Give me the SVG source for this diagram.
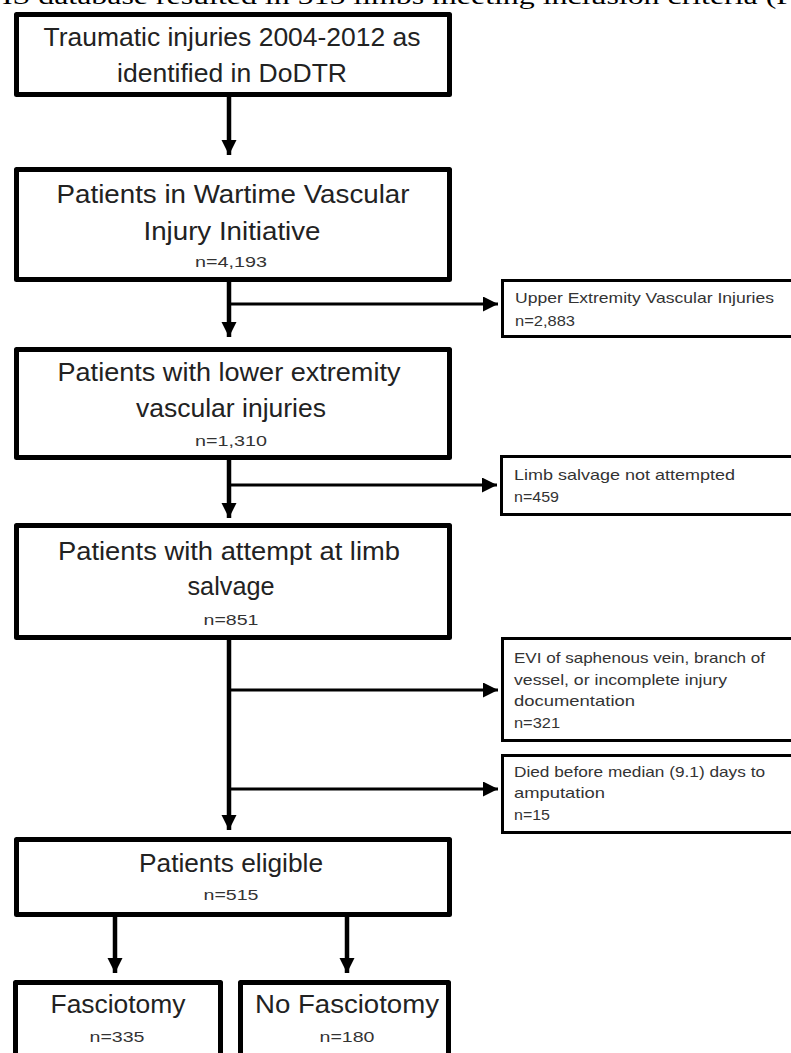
<svg xmlns="http://www.w3.org/2000/svg" width="791" height="1053" viewBox="0 0 791 1053">
<style>
.main{fill:#fff;stroke:#000;stroke-width:5;stroke-linejoin:round}
.side{fill:#fff;stroke:#000;stroke-width:3}
.t{font-family:"Liberation Sans",Arial,sans-serif;font-size:26px;fill:#222;text-anchor:middle}
.n{font-family:"Liberation Sans",Arial,sans-serif;font-size:15px;fill:#333;text-anchor:middle}
.s{font-family:"Liberation Sans",Arial,sans-serif;font-size:15px;fill:#333}
.v{stroke:#000;stroke-width:4.5;fill:none}
.h{stroke:#000;stroke-width:3;fill:none}
.cap{font-family:"Liberation Serif","Times New Roman",serif;font-size:24px;fill:#000}
</style>
<defs>
<marker id="ah" markerUnits="userSpaceOnUse" markerWidth="16" markerHeight="16" refX="15" refY="7.5" orient="auto">
<path d="M0,0 L15,7.5 L0,15 z" fill="#000"/>
</marker>
</defs>
<text class="cap" x="2" y="4" textLength="792" lengthAdjust="spacingAndGlyphs">IS database resulted in 515 limbs meeting inclusion criteria (F</text>
<g id="connectors">
<line class="v" x1="229" y1="97" x2="229" y2="155" marker-end="url(#ah)"/>
<line class="v" x1="229" y1="282" x2="229" y2="337" marker-end="url(#ah)"/>
<line class="h" x1="229" y1="304" x2="498" y2="304" marker-end="url(#ah)"/>
<line class="v" x1="229" y1="460" x2="229" y2="518" marker-end="url(#ah)"/>
<line class="h" x1="229" y1="485" x2="497" y2="485" marker-end="url(#ah)"/>
<line class="v" x1="229" y1="640" x2="229" y2="830" marker-end="url(#ah)"/>
<line class="h" x1="229" y1="690" x2="498" y2="690" marker-end="url(#ah)"/>
<line class="h" x1="229" y1="789" x2="498" y2="789" marker-end="url(#ah)"/>
<line class="v" x1="115" y1="917" x2="115" y2="973" marker-end="url(#ah)"/>
<line class="v" x1="347" y1="917" x2="347" y2="973" marker-end="url(#ah)"/>
</g>
<g id="n1">
<rect class="main" x="16.5" y="14.5" width="433" height="80"/>
<text class="t" x="232" y="46" textLength="377" lengthAdjust="spacingAndGlyphs">Traumatic injuries 2004-2012 as</text>
<text class="t" x="232" y="82" textLength="230" lengthAdjust="spacingAndGlyphs">identified in DoDTR</text>
</g>
<g id="n2">
<rect class="main" x="16.5" y="169.5" width="433" height="110"/>
<text class="t" x="233" y="203" textLength="353" lengthAdjust="spacingAndGlyphs">Patients in Wartime Vascular</text>
<text class="t" x="232" y="240" textLength="177" lengthAdjust="spacingAndGlyphs">Injury Initiative</text>
<text class="n" x="231" y="267" textLength="72" lengthAdjust="spacingAndGlyphs">n=4,193</text>
</g>
<g id="s1">
<rect class="side" x="502.5" y="280.5" width="300" height="56"/>
<text class="s" x="515" y="303" textLength="259" lengthAdjust="spacingAndGlyphs">Upper Extremity Vascular Injuries</text>
<text class="s" x="515" y="326" textLength="60" lengthAdjust="spacingAndGlyphs">n=2,883</text>
</g>
<g id="n3">
<rect class="main" x="16.5" y="349.5" width="433" height="108"/>
<text class="t" x="229" y="381" textLength="343" lengthAdjust="spacingAndGlyphs">Patients with lower extremity</text>
<text class="t" x="231" y="417" textLength="190" lengthAdjust="spacingAndGlyphs">vascular injuries</text>
<text class="n" x="231" y="446" textLength="72" lengthAdjust="spacingAndGlyphs">n=1,310</text>
</g>
<g id="s2">
<rect class="side" x="501.5" y="456.5" width="300" height="58"/>
<text class="s" x="514" y="480" textLength="221" lengthAdjust="spacingAndGlyphs">Limb salvage not  attempted</text>
<text class="s" x="514" y="502" textLength="45" lengthAdjust="spacingAndGlyphs">n=459</text>
</g>
<g id="n4">
<rect class="main" x="16.5" y="525.5" width="433" height="112"/>
<text class="t" x="229" y="560" textLength="342" lengthAdjust="spacingAndGlyphs">Patients with attempt at limb</text>
<text class="t" x="231" y="595" textLength="87" lengthAdjust="spacingAndGlyphs">salvage</text>
<text class="n" x="231" y="625" textLength="55" lengthAdjust="spacingAndGlyphs">n=851</text>
</g>
<g id="s3">
<rect class="side" x="502.5" y="638.5" width="300" height="102"/>
<text class="s" x="514" y="663" textLength="251" lengthAdjust="spacingAndGlyphs">EVI of saphenous vein, branch of</text>
<text class="s" x="514" y="685" textLength="213" lengthAdjust="spacingAndGlyphs">vessel, or incomplete injury</text>
<text class="s" x="514" y="706" textLength="121" lengthAdjust="spacingAndGlyphs">documentation</text>
<text class="s" x="514" y="728" textLength="46" lengthAdjust="spacingAndGlyphs">n=321</text>
</g>
<g id="s4">
<rect class="side" x="502.5" y="755.5" width="300" height="77"/>
<text class="s" x="514" y="777" textLength="251" lengthAdjust="spacingAndGlyphs">Died before median (9.1) days to</text>
<text class="s" x="514" y="798" textLength="91" lengthAdjust="spacingAndGlyphs">amputation</text>
<text class="s" x="514" y="820" textLength="36" lengthAdjust="spacingAndGlyphs">n=15</text>
</g>
<g id="n5">
<rect class="main" x="16.5" y="839.5" width="433" height="75"/>
<text class="t" x="231" y="872" textLength="184" lengthAdjust="spacingAndGlyphs">Patients eligible</text>
<text class="n" x="231" y="900" textLength="55" lengthAdjust="spacingAndGlyphs">n=515</text>
</g>
<g id="n6">
<rect class="main" x="15.5" y="982.5" width="205" height="90"/>
<text class="t" x="118" y="1013" textLength="135" lengthAdjust="spacingAndGlyphs">Fasciotomy</text>
<text class="n" x="117" y="1042" textLength="55" lengthAdjust="spacingAndGlyphs">n=335</text>
</g>
<g id="n7">
<rect class="main" x="240.5" y="982.5" width="208" height="90"/>
<text class="t" x="347" y="1013" textLength="184" lengthAdjust="spacingAndGlyphs">No Fasciotomy</text>
<text class="n" x="347" y="1042" textLength="55" lengthAdjust="spacingAndGlyphs">n=180</text>
</g>
</svg>
